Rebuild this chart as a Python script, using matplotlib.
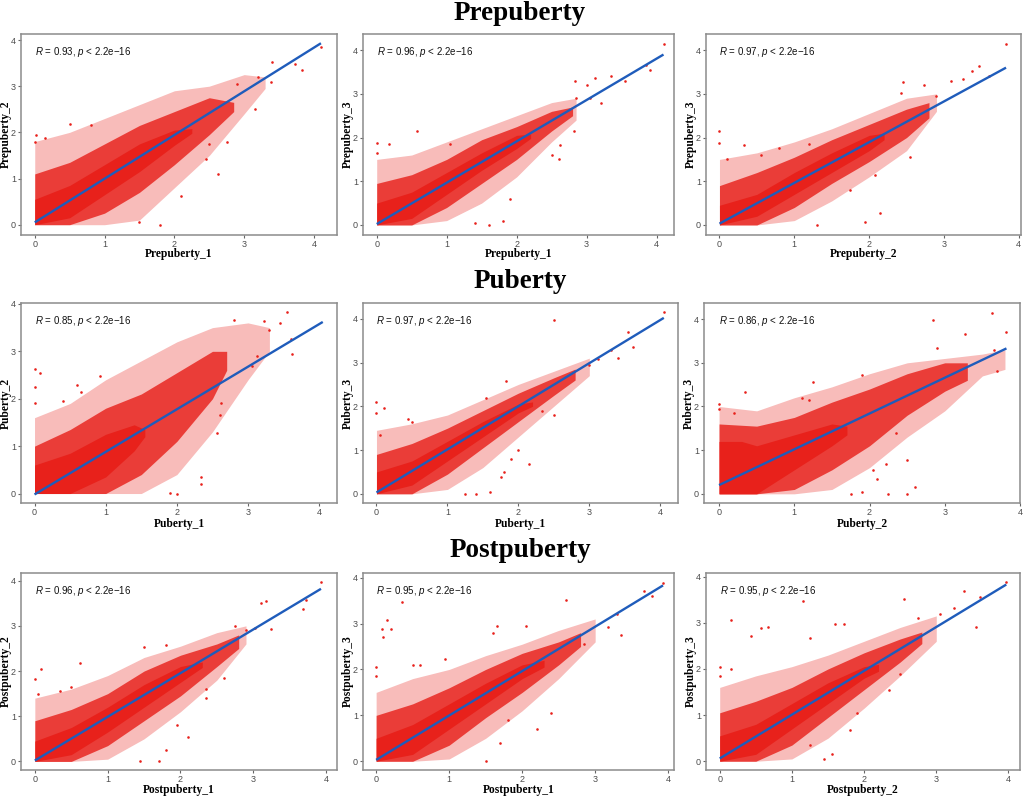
import matplotlib
matplotlib.use("Agg")
import matplotlib.pyplot as plt
import matplotlib.transforms as mtransforms

# ---------------- data ----------------
ROW_TITLES = ["Prepuberty", "Puberty", "Postpuberty"]
X_LABELS = ["Prepuberty_1", "Prepuberty_1", "Prepuberty_2",
            "Puberty_1", "Puberty_1", "Puberty_2",
            "Postpuberty_1", "Postpuberty_1", "Postpuberty_2"]
Y_LABELS = ["Prepuberty_2", "Prepuberty_3", "Prepuberty_3",
            "Puberty_2", "Puberty_3", "Puberty_3",
            "Postpuberty_2", "Postpuberty_3", "Postpuberty_3"]
R_VALUES = [0.93, 0.96, 0.97, 0.85, 0.97, 0.86, 0.96, 0.95, 0.95]
P_TEXT = "2.2e\u221216"
TICKS = [0, 1, 2, 3, 4]

# fitted regression lines: (x_start, y_start, x_end, y_end)
FIT_LINES = [(0, 0.05, 4.10, 3.93), (0, 0.02, 4.10, 3.90), (0, 0.03, 3.83, 3.60),
             (0, -0.02, 4.05, 3.62), (0, 0.03, 4.05, 4.02), (0, 0.20, 3.82, 3.33),
             (0, 0.02, 3.93, 3.82), (0, 0.03, 3.93, 3.83), (0, 0.06, 3.97, 3.83)]

# point-cloud density envelopes: (x, lower y, upper y)
# CORE = solid mass of points, HALO = dense points, FRINGE = sparse points
PRE12_CORE = [(0, 0, 0.55), (0.5, 0.15, 0.85), (1.0, 0.65, 1.3), (1.5, 1.15, 1.75), (2.0, 1.72, 2.05), (2.25, 1.98, 2.08)]
PRE12_HALO = [(0, 0, 1.1), (0.5, 0, 1.35), (1.0, 0.25, 1.75), (1.5, 0.7, 2.15), (2.0, 1.3, 2.45), (2.5, 1.95, 2.75), (2.85, 2.45, 2.65)]
PRE12_FRINGE = [(0, 0, 1.8), (0.5, 0, 2.0), (1.0, 0, 2.3), (1.5, 0.1, 2.6), (2.0, 0.8, 2.9), (2.5, 1.5, 3.0), (3.0, 2.4, 3.25), (3.3, 2.95, 3.2)]
PRE12_OUT = [(0.02, 1.95), (0.15, 1.87), (0.5, 2.18), (0.8, 2.17), (0.0, 1.8), (2.5, 1.75), (2.62, 1.1), (2.1, 0.62),
             (2.75, 1.8), (3.4, 3.52), (3.38, 3.1), (3.73, 3.48), (3.83, 3.36), (4.1, 3.85), (3.15, 2.5), (2.9, 3.05),
             (3.2, 3.2), (1.8, 0.0), (1.5, 0.05), (2.45, 1.42)]

PRE13_CORE = [(0, 0, 0.5), (0.5, 0.15, 0.75), (1.0, 0.7, 1.2), (1.5, 1.25, 1.65), (2.0, 1.75, 2.05), (2.2, 1.98, 2.08)]
PRE13_HALO = [(0, 0, 0.95), (0.5, 0, 1.15), (1.0, 0.4, 1.5), (1.5, 0.95, 1.95), (2.0, 1.5, 2.25), (2.5, 2.15, 2.6), (2.8, 2.5, 2.7)]
PRE13_FRINGE = [(0, 0, 1.5), (0.5, 0, 1.6), (1.0, 0.1, 1.9), (1.5, 0.5, 2.2), (2.0, 1.1, 2.5), (2.5, 1.9, 2.8), (2.85, 2.4, 2.9)]
PRE13_OUT = [(0.0, 1.88), (0.0, 1.65), (0.57, 2.15), (0.18, 1.85), (1.05, 1.85), (1.6, 0.0), (1.8, 0.1), (1.9, 0.6),
             (2.6, 1.5), (2.5, 1.6), (2.62, 1.82), (2.82, 2.14), (2.83, 3.3), (3.0, 3.2), (3.12, 3.36), (3.2, 2.8),
             (3.35, 3.42), (3.55, 3.3), (3.9, 3.55), (4.1, 4.15), (3.85, 3.65), (3.05, 2.9), (1.4, 0.05), (2.85, 2.9)]

PRE23_CORE = [(0, 0, 0.45), (0.5, 0.2, 0.7), (1.0, 0.7, 1.2), (1.5, 1.2, 1.65), (2.0, 1.7, 2.05), (2.2, 1.95, 2.1)]
PRE23_HALO = [(0, 0, 0.9), (0.5, 0, 1.2), (1.0, 0.4, 1.55), (1.5, 0.95, 1.95), (2.0, 1.45, 2.3), (2.5, 2.0, 2.65), (2.8, 2.45, 2.8)]
PRE23_FRINGE = [(0, 0, 1.5), (0.5, 0, 1.65), (1.0, 0.1, 1.9), (1.5, 0.55, 2.2), (2.0, 1.1, 2.55), (2.5, 1.7, 2.9), (2.9, 2.6, 3.0)]
PRE23_OUT = [(0, 2.15), (0, 1.87), (0.1, 1.5), (0.33, 1.83), (0.55, 1.6), (0.8, 1.75), (1.2, 1.85), (1.3, 0.0),
             (1.95, 0.07), (2.15, 0.28), (2.55, 1.55), (2.45, 3.28), (2.43, 3.03), (2.73, 3.2), (2.9, 2.95), (3.1, 3.3),
             (3.25, 3.35), (3.38, 3.52), (3.47, 3.63), (3.6, 3.4), (3.83, 4.13), (1.75, 0.8), (2.08, 1.15)]

PUB12_CORE = [(0, 0, 0.6), (0.5, 0, 0.85), (1.0, 0.35, 1.25), (1.4, 0.9, 1.45), (1.55, 1.2, 1.35)]
PUB12_HALO = [(0, 0, 1.0), (0.5, 0, 1.35), (1.0, 0, 1.8), (1.5, 0.4, 2.1), (2.0, 1.1, 2.55), (2.5, 2.0, 3.0), (2.7, 2.6, 3.0)]
PUB12_FRINGE = [(0, 0, 1.6), (0.5, 0, 1.9), (1.0, 0, 2.4), (1.5, 0, 2.8), (2.0, 0.4, 3.2), (2.5, 1.3, 3.5), (3.0, 2.4, 3.6), (3.3, 3.0, 3.5)]
PUB12_OUT = [(0, 2.62), (0, 2.25), (0.07, 2.55), (0.0, 1.9), (0.6, 2.3), (0.65, 2.15), (0.92, 2.48), (0.4, 1.95),
             (2.34, 0.35), (2.34, 0.2), (2.56, 1.27), (2.6, 1.65), (2.62, 1.9), (2.0, 0.0), (2.8, 3.66), (3.05, 2.7),
             (3.12, 2.9), (3.3, 3.45), (3.55, 3.82), (3.45, 3.6), (3.62, 2.95), (3.6, 3.26), (3.23, 3.64), (1.9, 0.02)]

PUB13_CORE = [(0, 0, 0.5), (0.5, 0.2, 0.75), (1.0, 0.75, 1.2), (1.5, 1.3, 1.65), (2.0, 1.85, 2.05), (2.2, 2.0, 2.1)]
PUB13_HALO = [(0, 0, 0.9), (0.5, 0, 1.15), (1.0, 0.45, 1.5), (1.5, 1.05, 1.9), (2.0, 1.65, 2.3), (2.5, 2.25, 2.65), (2.8, 2.6, 2.85)]
PUB13_FRINGE = [(0, 0, 1.45), (0.5, 0, 1.6), (1.0, 0.1, 1.8), (1.5, 0.6, 2.15), (2.0, 1.3, 2.5), (2.5, 2.0, 2.8), (3.0, 2.7, 3.1)]
PUB13_OUT = [(0, 2.1), (0.0, 1.85), (0.1, 1.97), (0.05, 1.35), (0.5, 1.65), (1.55, 2.2), (2.5, 3.97), (1.83, 2.57),
             (1.9, 0.8), (1.8, 0.5), (1.75, 0.38), (1.6, 0.05), (1.4, 0.0), (1.25, 0.0), (2.15, 0.67), (2.0, 1.0),
             (2.33, 1.9), (2.5, 1.8), (3.0, 2.95), (3.12, 3.07), (3.3, 3.28), (3.55, 3.7), (3.62, 3.35), (3.4, 3.1),
             (4.05, 4.15), (0.45, 1.7)]

PUB23_CORE = [(0, 0, 1.2), (0.3, 0, 1.2), (0.5, 0, 1.1), (1.0, 0.55, 1.35), (1.5, 1.1, 1.6), (1.7, 1.35, 1.55)]
PUB23_HALO = [(0, 0, 1.6), (0.5, 0, 1.55), (1.0, 0.1, 1.75), (1.5, 0.55, 2.1), (2.0, 1.1, 2.4), (2.5, 1.8, 2.75), (3.0, 2.35, 3.0), (3.3, 2.6, 3.0)]
PUB23_FRINGE = [(0, 0, 2.0), (0.5, 0, 1.9), (1.0, 0, 2.2), (1.5, 0.1, 2.45), (2.0, 0.6, 2.75), (2.5, 1.3, 3.0), (3.0, 1.9, 3.1), (3.5, 2.7, 3.2), (3.8, 2.85, 3.3)]
PUB23_OUT = [(0, 2.05), (0.0, 1.95), (0.35, 2.33), (0.2, 1.85), (1.25, 2.55), (1.1, 2.2), (1.2, 2.15), (1.9, 2.72),
             (2.85, 3.97), (2.9, 3.35), (3.27, 3.65), (3.63, 4.15), (3.82, 3.7), (3.65, 3.3), (3.7, 2.82), (2.22, 0.68),
             (2.5, 0.78), (2.6, 0.15), (2.25, 0.0), (2.5, 0.0), (1.75, 0.0), (1.9, 0.05), (2.05, 0.55), (2.35, 1.4), (2.1, 0.35)]

POST12_CORE = [(0, 0, 0.45), (0.5, 0.15, 0.75), (1.0, 0.65, 1.2), (1.5, 1.2, 1.7), (2.0, 1.75, 2.1), (2.3, 2.08, 2.2)]
POST12_HALO = [(0, 0, 0.9), (0.5, 0, 1.15), (1.0, 0.35, 1.5), (1.5, 0.9, 2.0), (2.0, 1.45, 2.35), (2.5, 2.1, 2.6), (2.8, 2.5, 2.8)]
POST12_FRINGE = [(0, 0, 1.4), (0.5, 0, 1.6), (1.0, 0.05, 1.9), (1.5, 0.5, 2.3), (2.0, 1.1, 2.55), (2.5, 1.8, 2.85), (2.9, 2.6, 3.0)]
POST12_OUT = [(0, 1.83), (0.08, 2.05), (0.62, 2.18), (0.04, 1.5), (0.35, 1.55), (0.5, 1.65), (1.5, 2.53), (1.8, 2.57),
              (1.45, 0.0), (1.7, 0.0), (1.8, 0.25), (2.35, 1.4), (2.35, 1.6), (2.6, 1.85), (1.95, 0.8), (2.9, 2.9),
              (3.03, 2.95), (3.25, 2.93), (3.18, 3.55), (3.1, 3.5), (3.68, 3.38), (3.73, 3.58), (3.93, 3.97), (2.75, 3.0), (2.1, 0.55)]

POST13_CORE = [(0, 0, 0.5), (0.5, 0.15, 0.8), (1.0, 0.7, 1.25), (1.5, 1.25, 1.7), (2.0, 1.8, 2.1), (2.3, 2.05, 2.2)]
POST13_HALO = [(0, 0, 1.0), (0.5, 0, 1.25), (1.0, 0.35, 1.6), (1.5, 0.95, 2.0), (2.0, 1.5, 2.35), (2.5, 2.1, 2.6), (2.8, 2.5, 2.8)]
POST13_FRINGE = [(0, 0, 1.5), (0.5, 0, 1.8), (1.0, 0.05, 2.0), (1.5, 0.5, 2.3), (2.0, 1.1, 2.55), (2.5, 1.8, 2.85), (3.0, 2.6, 3.1)]
POST13_OUT = [(0.0, 2.05), (0.0, 1.85), (0.35, 3.47), (0.15, 3.07), (0.08, 2.88), (0.2, 2.87), (0.1, 2.7), (0.5, 2.1),
              (0.95, 2.22), (1.65, 2.95), (2.05, 2.95), (2.6, 3.52), (1.6, 2.8), (2.4, 1.05), (2.2, 0.7), (1.8, 0.9),
              (1.7, 0.4), (1.5, 0.0), (3.35, 2.75), (3.18, 2.93), (3.3, 3.2), (3.67, 3.7), (3.78, 3.6), (3.93, 3.88),
              (2.85, 2.55), (0.6, 2.1)]

POST23_CORE = [(0, 0, 0.55), (0.5, 0.15, 0.8), (1.0, 0.7, 1.25), (1.5, 1.25, 1.7), (2.0, 1.8, 2.05), (2.2, 1.95, 2.1)]
POST23_HALO = [(0, 0, 1.05), (0.5, 0, 1.3), (1.0, 0.35, 1.6), (1.5, 0.95, 2.0), (2.0, 1.55, 2.35), (2.5, 2.15, 2.65), (2.8, 2.55, 2.8)]
POST23_FRINGE = [(0, 0, 1.6), (0.5, 0, 1.85), (1.0, 0.05, 2.05), (1.5, 0.5, 2.3), (2.0, 1.15, 2.6), (2.5, 1.85, 2.9), (3.0, 2.6, 3.15)]
POST23_OUT = [(0, 2.05), (0, 1.85), (0.15, 3.07), (0.57, 2.88), (0.67, 2.9), (0.43, 2.72), (1.15, 3.47), (1.25, 2.68),
              (1.6, 2.97), (1.72, 2.98), (2.55, 3.52), (3.38, 3.68), (3.55, 2.92), (3.6, 3.57), (3.97, 3.88), (2.5, 1.9),
              (1.9, 1.05), (1.8, 0.68), (1.55, 0.15), (1.45, 0.05), (1.25, 0.35), (2.75, 3.1), (3.05, 3.2), (3.25, 3.33),
              (0.15, 2.0), (2.35, 1.55)]

CORES = [PRE12_CORE, PRE13_CORE, PRE23_CORE, PUB12_CORE, PUB13_CORE, PUB23_CORE, POST12_CORE, POST13_CORE, POST23_CORE]
HALOS = [PRE12_HALO, PRE13_HALO, PRE23_HALO, PUB12_HALO, PUB13_HALO, PUB23_HALO, POST12_HALO, POST13_HALO, POST23_HALO]
FRINGES = [PRE12_FRINGE, PRE13_FRINGE, PRE23_FRINGE, PUB12_FRINGE, PUB13_FRINGE, PUB23_FRINGE,
           POST12_FRINGE, POST13_FRINGE, POST23_FRINGE]
OUTLIERS = [PRE12_OUT, PRE13_OUT, PRE23_OUT, PUB12_OUT, PUB13_OUT, PUB23_OUT, POST12_OUT, POST13_OUT, POST23_OUT]

# ---------------- layout / style ----------------
W, H = 1024, 797
# panel boxes in pixels: left, top, right, bottom
BOXES = [(21, 34, 337, 235), (363, 34, 674, 235), (706, 34, 1021, 235),
         (21, 303, 337, 503), (363, 303, 678, 503), (704, 303, 1020, 503),
         (21, 573, 337, 770), (363, 573, 674, 770), (706, 573, 1020, 770)]
XLIMS = [(-0.197, 4.33), (-0.196, 4.25), (-0.18, 4.03),
         (-0.19, 4.25), (-0.19, 4.25), (-0.2, 4.0),
         (-0.19, 4.15), (-0.18, 4.08), (-0.19, 4.16)]
YLIMS = [(-0.223, 4.13), (-0.23, 4.37), (-0.23, 4.37),
         (-0.2, 4.02), (-0.21, 4.36), (-0.21, 4.37),
         (-0.19, 4.17), (-0.19, 4.10), (-0.19, 4.08)]
TITLE_BASELINES = [20, 288, 557]
XLABEL_BASELINES = [257, 257, 257, 527, 527, 527, 793, 793, 793]

RED = "#E8211B"
BLUE = "#1F5CBB"
FRAME = "#8C8C8C"
TICKCOL = "#4D4D4D"

plt.rcParams["mathtext.fontset"] = "custom"
plt.rcParams["mathtext.it"] = "Liberation Sans:italic"
plt.rcParams["mathtext.rm"] = "Liberation Sans"

fig = plt.figure(figsize=(W / 100, H / 100), dpi=100)
fig.patch.set_facecolor("white")


def band(ax, pts, **kw):
    xs = [p[0] for p in pts]
    lo = [p[1] for p in pts]
    hi = [p[2] for p in pts]
    ax.fill_between(xs, lo, hi, color=RED, linewidth=0, **kw)


for i in range(9):
    l, t, r, b = BOXES[i]
    ax = fig.add_axes([l / W, 1 - b / H, (r - l) / W, (b - t) / H])
    ax.set_xlim(*XLIMS[i])
    ax.set_ylim(*YLIMS[i])

    band(ax, FRINGES[i], alpha=0.3)
    band(ax, HALOS[i], alpha=0.82)
    band(ax, CORES[i], alpha=1.0)
    ox = [p[0] for p in OUTLIERS[i]]
    oy = [p[1] for p in OUTLIERS[i]]
    ax.scatter(ox, oy, s=3.5, color=RED, linewidths=0, zorder=3)

    x0, y0, x1, y1 = FIT_LINES[i]
    ax.plot([x0, x1], [y0, y1], color=BLUE, linewidth=1.7, zorder=4, solid_capstyle="butt")

    ax.set_xticks([v for v in TICKS if XLIMS[i][0] <= v <= XLIMS[i][1]])
    ax.set_yticks([v for v in TICKS if YLIMS[i][0] <= v <= YLIMS[i][1]])
    ax.tick_params(length=2.5, width=0.8, color="#666666", pad=1.2,
                   labelsize=6.5, labelcolor=TICKCOL)
    for lab in ax.get_xticklabels() + ax.get_yticklabels():
        lab.set_fontfamily("Liberation Sans")
    for sp in ax.spines.values():
        sp.set_color(FRAME)
        sp.set_linewidth(1.1)

    trans = mtransforms.blended_transform_factory(ax.transData, ax.transAxes)
    ax.text(0, 0.91, r"$R$ = %.2f, $p$ < %s" % (R_VALUES[i], P_TEXT), transform=trans,
            ha="left", va="center", fontsize=7, family="Liberation Sans", color="#111111")

    # axis labels
    cx = (l + r) / 2
    fig.text(cx / W, 1 - XLABEL_BASELINES[i] / H, X_LABELS[i], ha="center", va="baseline",
             fontsize=8.3, fontweight="bold", family="Liberation Serif")
    fig.text((l - 15) / W, 1 - ((t + b) / 2) / H, Y_LABELS[i], ha="center", va="center",
             rotation=90, fontsize=8.3, fontweight="bold", family="Liberation Serif")

for k, title in enumerate(ROW_TITLES):
    fig.text(520 / W, 1 - TITLE_BASELINES[k] / H, title, ha="center", va="baseline",
             fontsize=19.5, fontweight="bold", family="Liberation Serif")

fig.savefig("out.png", dpi=100, facecolor="white")
